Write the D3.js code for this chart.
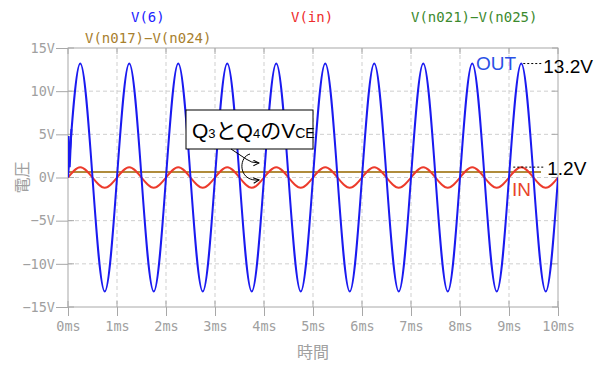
<!DOCTYPE html>
<html>
<head>
<meta charset="utf-8">
<script src="https://cdn.jsdelivr.net/npm/d3@7"></script>
<style>
body { margin: 0; background: #fff; }
</style>
</head>
<body>
<div id="chart"></div>
<script>
var times = [0, 0.25, 0.5, 0.75, 1, 1.25, 1.5, 1.75, 2, 2.25, 2.5, 2.75, 3, 3.25, 3.5, 3.75,
             4, 4.25, 4.5, 4.75, 5, 5.25, 5.5, 5.75, 6, 6.25, 6.5, 6.75, 7, 7.25, 7.5, 7.75,
             8, 8.25, 8.5, 8.75, 9, 9.25, 9.5, 9.75, 10];
var vOut = [0, 13.2, 0, -13.2, 0, 13.2, 0, -13.2, 0, 13.2, 0, -13.2, 0, 13.2, 0, -13.2,
            0, 13.2, 0, -13.2, 0, 13.2, 0, -13.2, 0, 13.2, 0, -13.2, 0, 13.2, 0, -13.2,
            0, 13.2, 0, -13.2, 0, 13.2, 0, -13.2, 0];
var vIn = [0, 1.2, 0, -1.2, 0, 1.2, 0, -1.2, 0, 1.2, 0, -1.2, 0, 1.2, 0, -1.2,
           0, 1.2, 0, -1.2, 0, 1.2, 0, -1.2, 0, 1.2, 0, -1.2, 0, 1.2, 0, -1.2,
           0, 1.2, 0, -1.2, 0, 1.2, 0, -1.2, 0];
// start-up glitch of V(6)
var outStart = [[0, 0.3], [0.012, 4.8], [0.035, 1.2], [0.07, 5.6]];
// V(n021)-V(n025) and V(n017)-V(n024), flat
var vce3 = [[0, 0.65], [9.65, 0.65]];
var vce4 = [[0, 0.65], [9.65, 0.65]];

var xTicks = [0, 1, 2, 3, 4, 5, 6, 7, 8, 9, 10];
var yTicks = [-15, -10, -5, 0, 5, 10, 15];

var width = 600, height = 371;
var mono = "'DejaVu Sans Mono', monospace";
var sans = "'Liberation Sans', Arial, 'Noto Sans CJK JP', sans-serif";
var grey = "#a8a8a8";

var svg = d3.select("#chart").append("svg")
    .attr("width", width)
    .attr("height", height)
    .style("background", "#fff");

var x = d3.scaleLinear().domain([0, 10]).range([68, 558]);
var y = d3.scaleLinear().domain([-15, 15]).range([307, 48]);

// grid
svg.append("g").selectAll("line")
    .data(xTicks.slice(1, -1)).enter().append("line")
    .attr("x1", d => x(d)).attr("x2", d => x(d))
    .attr("y1", y(15)).attr("y2", y(-15))
    .attr("stroke", "#cfcfcf").attr("stroke-dasharray", "4,3");
svg.append("g").selectAll("line")
    .data(yTicks.slice(1, -1)).enter().append("line")
    .attr("x1", x(0)).attr("x2", x(10))
    .attr("y1", d => y(d)).attr("y2", d => y(d))
    .attr("stroke", "#cfcfcf").attr("stroke-dasharray", "4,3");

// frame
svg.append("rect")
    .attr("x", x(0)).attr("y", y(15))
    .attr("width", x(10) - x(0)).attr("height", y(-15) - y(15))
    .attr("fill", "none").attr("stroke", grey);

// axes
var xAxis = d3.axisBottom(x).tickValues(xTicks).tickSize(9).tickPadding(5)
    .tickFormat(d => d + "ms");
var yAxis = d3.axisLeft(y).tickValues(yTicks).tickSize(12).tickPadding(1)
    .tickFormat(d => d3.format("d")(d) + "V");

var gx = svg.append("g").attr("transform", "translate(0," + y(-15) + ")").call(xAxis);
var gy = svg.append("g").attr("transform", "translate(" + x(0) + ",0)").call(yAxis);
[gx, gy].forEach(function(g) {
    g.select(".domain").remove();
    g.selectAll(".tick line").attr("stroke", grey);
    g.selectAll(".tick text").attr("fill", "#a0a0a0")
        .style("font-family", mono).style("font-size", "13.5px");
});

// small inner ticks on all four sides
var inner = svg.append("g").attr("stroke", grey);
xTicks.forEach(function(t) {
    inner.append("line").attr("x1", x(t)).attr("x2", x(t)).attr("y1", y(15)).attr("y2", y(15) + 6);
    inner.append("line").attr("x1", x(t)).attr("x2", x(t)).attr("y1", y(-15)).attr("y2", y(-15) - 6);
});
yTicks.forEach(function(v) {
    inner.append("line").attr("x1", x(0)).attr("x2", x(0) + 6).attr("y1", y(v)).attr("y2", y(v));
    inner.append("line").attr("x1", x(10)).attr("x2", x(10) - 6).attr("y1", y(v)).attr("y2", y(v));
});

// axis titles
svg.append("text").text("時間")
    .attr("x", (x(0) + x(10)) / 2).attr("y", 358)
    .attr("text-anchor", "middle").attr("fill", "#a0a0a0")
    .style("font-family", "'Noto Sans CJK JP', sans-serif").style("font-size", "16px");
svg.append("text").text("電圧")
    .attr("transform", "translate(28," + y(0) + ") rotate(-90)")
    .attr("text-anchor", "middle").attr("fill", "#a0a0a0")
    .style("font-family", "'Noto Sans CJK JP', sans-serif").style("font-size", "16px");

// traces
svg.append("clipPath").attr("id", "plot").append("rect")
    .attr("x", x(0)).attr("y", y(15))
    .attr("width", x(10) - x(0)).attr("height", y(-15) - y(15));
var plot = svg.append("g").attr("clip-path", "url(#plot)");

var smooth = d3.line().x(d => x(d[0])).y(d => y(d[1])).curve(d3.curveNatural);
var straight = d3.line().x(d => x(d[0])).y(d => y(d[1]));

plot.append("path").attr("d", straight(vce3))
    .attr("fill", "none").attr("stroke", "#3c8a2e").attr("stroke-width", 2);
plot.append("path").attr("d", straight(vce4))
    .attr("fill", "none").attr("stroke", "#b08c3c").attr("stroke-width", 2);
plot.append("path").attr("d", smooth(times.map((t, i) => [t, vIn[i]])))
    .attr("fill", "none").attr("stroke", "#ec3b2c").attr("stroke-width", 2);
plot.append("path").attr("d", smooth(times.map((t, i) => [t, vOut[i]])))
    .attr("fill", "none").attr("stroke", "#1a1af0").attr("stroke-width", 2);
plot.append("path").attr("d", straight(outStart))
    .attr("fill", "none").attr("stroke", "#1a1af0").attr("stroke-width", 2);

// legend
var legend = [
    {name: "V(6)", color: "#2222ff", x: 131, y: 22},
    {name: "V(in)", color: "#ee2c2c", x: 291, y: 22},
    {name: "V(n021)\u2212V(n025)", color: "#3c8a2e", x: 411, y: 22},
    {name: "V(n017)\u2212V(n024)", color: "#a8802e", x: 85, y: 43}
];
svg.append("g").selectAll("text").data(legend).enter().append("text")
    .text(d => d.name).attr("x", d => d.x).attr("y", d => d.y)
    .attr("fill", d => d.color)
    .style("font-family", mono).style("font-size", "14px");

// annotations
svg.append("line")
    .attr("x1", x(9.25) + 2).attr("x2", x(9.25) + 22)
    .attr("y1", y(13.2)).attr("y2", y(13.2))
    .attr("stroke", "#000").attr("stroke-dasharray", "2,2");
svg.append("text").text("13.2V")
    .attr("x", x(9.25) + 22).attr("y", y(13.2) + 9)
    .style("font-family", sans).style("font-size", "19px");
svg.append("text").text("OUT")
    .attr("x", 476).attr("y", 70).attr("fill", "#2a50e6")
    .style("font-family", sans).style("font-size", "19px");

svg.append("line")
    .attr("x1", x(9.25) - 8).attr("x2", x(9.25) + 24)
    .attr("y1", y(1.2)).attr("y2", y(1.2))
    .attr("stroke", "#000").attr("stroke-dasharray", "2,2");
svg.append("text").text("1.2V")
    .attr("x", x(9.25) + 26).attr("y", y(1.2) + 8)
    .style("font-family", sans).style("font-size", "19px");
svg.append("text").text("IN")
    .attr("x", 512).attr("y", 196).attr("fill", "#e8442a")
    .style("font-family", sans).style("font-size", "19px");

// callout box
svg.append("rect")
    .attr("x", 186).attr("y", 110).attr("width", 127).attr("height", 39)
    .attr("fill", "#fff").attr("stroke", "#000");
var label = svg.append("text").attr("x", 192).attr("y", 138)
    .style("font-family", sans).style("font-size", "21px");
label.append("tspan").text("Q");
label.append("tspan").text("3").style("font-size", "13px");
label.append("tspan").text("と");
label.append("tspan").text("Q");
label.append("tspan").text("4").style("font-size", "13px");
label.append("tspan").text("の");
label.append("tspan").text("V");
label.append("tspan").text("CE").style("font-size", "14px");

svg.append("defs").append("marker")
    .attr("id", "arrow").attr("viewBox", "0 0 10 10")
    .attr("refX", 9).attr("refY", 5)
    .attr("markerWidth", 7).attr("markerHeight", 7)
    .attr("orient", "auto")
    .append("path").attr("d", "M1,1 L9,5 L1,9")
    .attr("fill", "none").attr("stroke", "#000").attr("stroke-width", 1.5);

svg.append("path").attr("d", "M231,149 L246,159 Q251,163 259,163")
    .attr("fill", "none").attr("stroke", "#000").attr("marker-end", "url(#arrow)");
svg.append("path").attr("d", "M250,154 C238,157 238,182 259,180")
    .attr("fill", "none").attr("stroke", "#000").attr("marker-end", "url(#arrow)");
</script>
</body>
</html>
